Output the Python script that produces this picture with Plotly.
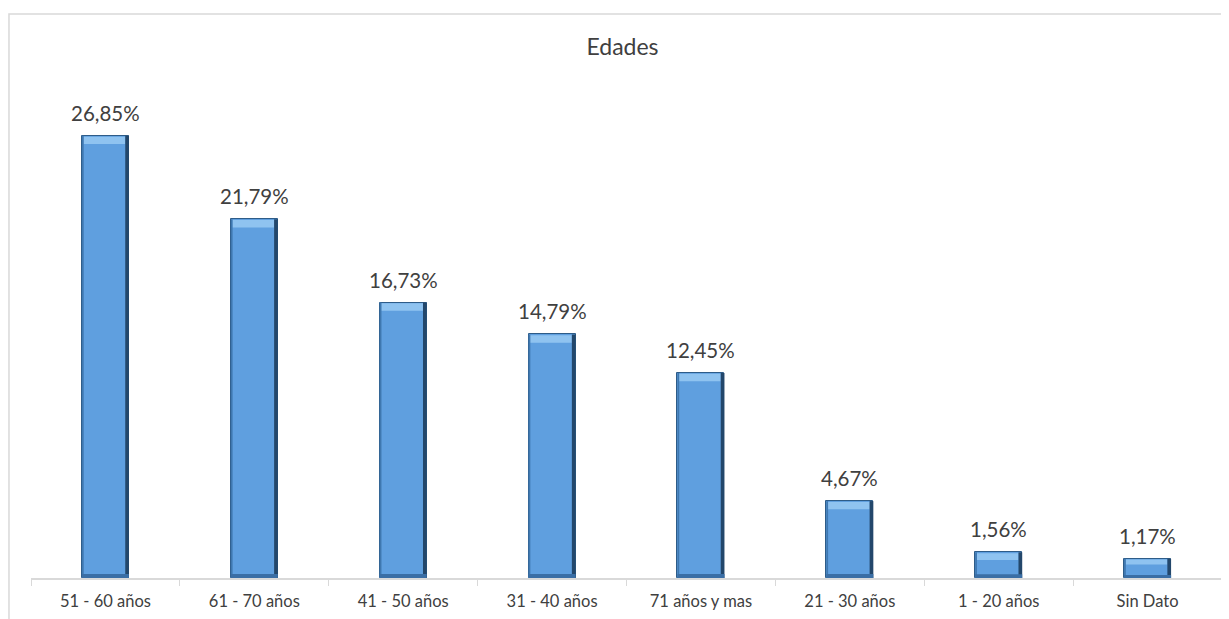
import plotly.graph_objects as go

categories = ["51 - 60 años", "61 - 70 años", "41 - 50 años", "31 - 40 años",
              "71 años y mas", "21 - 30 años", "1 - 20 años", "Sin Dato"]
values = [26.85, 21.79, 16.73, 14.79, 12.45, 4.67, 1.56, 1.17]
labels = [f"{v:.2f}%".replace(".", ",") for v in values]

BAR_W = 0.316
font_fam = "Lato, Open Sans, sans-serif"

fig = go.Figure()
fig.add_trace(go.Bar(
    x=categories, y=values, width=BAR_W,
    marker=dict(color="#5F9FDF", line=dict(color="#2E5C88", width=1)),
    hoverinfo="skip",
))

shapes = []
for i, v in enumerate(values):
    bev = min(0.5, v * 0.3)
    # top bevel highlight
    shapes.append(dict(type="rect", xref="x", yref="y",
                       x0=i - BAR_W / 2 + 0.01, x1=i + BAR_W / 2 - 0.025,
                       y0=v - bev, y1=v - 0.05,
                       fillcolor="#8FC3F0", line=dict(width=0), layer="above"))
    # right dark edge
    shapes.append(dict(type="rect", xref="x", yref="y",
                       x0=i + BAR_W / 2 - 0.025, x1=i + BAR_W / 2,
                       y0=0, y1=v,
                       fillcolor="#23476B", line=dict(width=0), layer="above"))
    # left soft edge
    shapes.append(dict(type="rect", xref="x", yref="y",
                       x0=i - BAR_W / 2, x1=i - BAR_W / 2 + 0.012,
                       y0=0, y1=v,
                       fillcolor="#3F78B0", line=dict(width=0), layer="above"))
    # bottom dark band
    shapes.append(dict(type="rect", xref="x", yref="y",
                       x0=i - BAR_W / 2, x1=i + BAR_W / 2,
                       y0=0, y1=min(0.25, v * 0.15),
                       fillcolor="#3A6EA5", line=dict(width=0), layer="above"))

# chart border
shapes.append(dict(type="rect", xref="paper", yref="paper",
                   x0=-0.0185, x1=1.2, y0=-0.3, y1=1.1417,
                   line=dict(color="#D9D9D9", width=1.5), fillcolor="rgba(0,0,0,0)"))

annotations = []
for i, (v, t) in enumerate(zip(values, labels)):
    annotations.append(dict(x=i, y=v, xref="x", yref="y", text=t, showarrow=False,
                            yanchor="bottom", yshift=9,
                            font=dict(size=20.5, color="#404040", family=font_fam)))

fig.update_layout(
    width=1229, height=619,
    margin=dict(l=23, r=15, t=76, b=49),
    paper_bgcolor="white", plot_bgcolor="white",
    showlegend=False,
    title=dict(text="Edades", x=0.5, xanchor="center", y=0.937, yanchor="middle",
               font=dict(size=23, color="#404040", family=font_fam)),
    xaxis=dict(showline=True, linecolor="#D9D9D9", linewidth=1.5,
               ticks="outside", tickson="boundaries", ticklen=6, tickcolor="#D9D9D9",
               ticklabelstandoff=7,
               tickfont=dict(size=16.5, color="#404040", family=font_fam),
               showgrid=False),
    yaxis=dict(range=[0, 30], visible=False, showgrid=False),
    shapes=shapes,
    annotations=annotations,
    bargap=0,
)

fig.write_html("out.html")
